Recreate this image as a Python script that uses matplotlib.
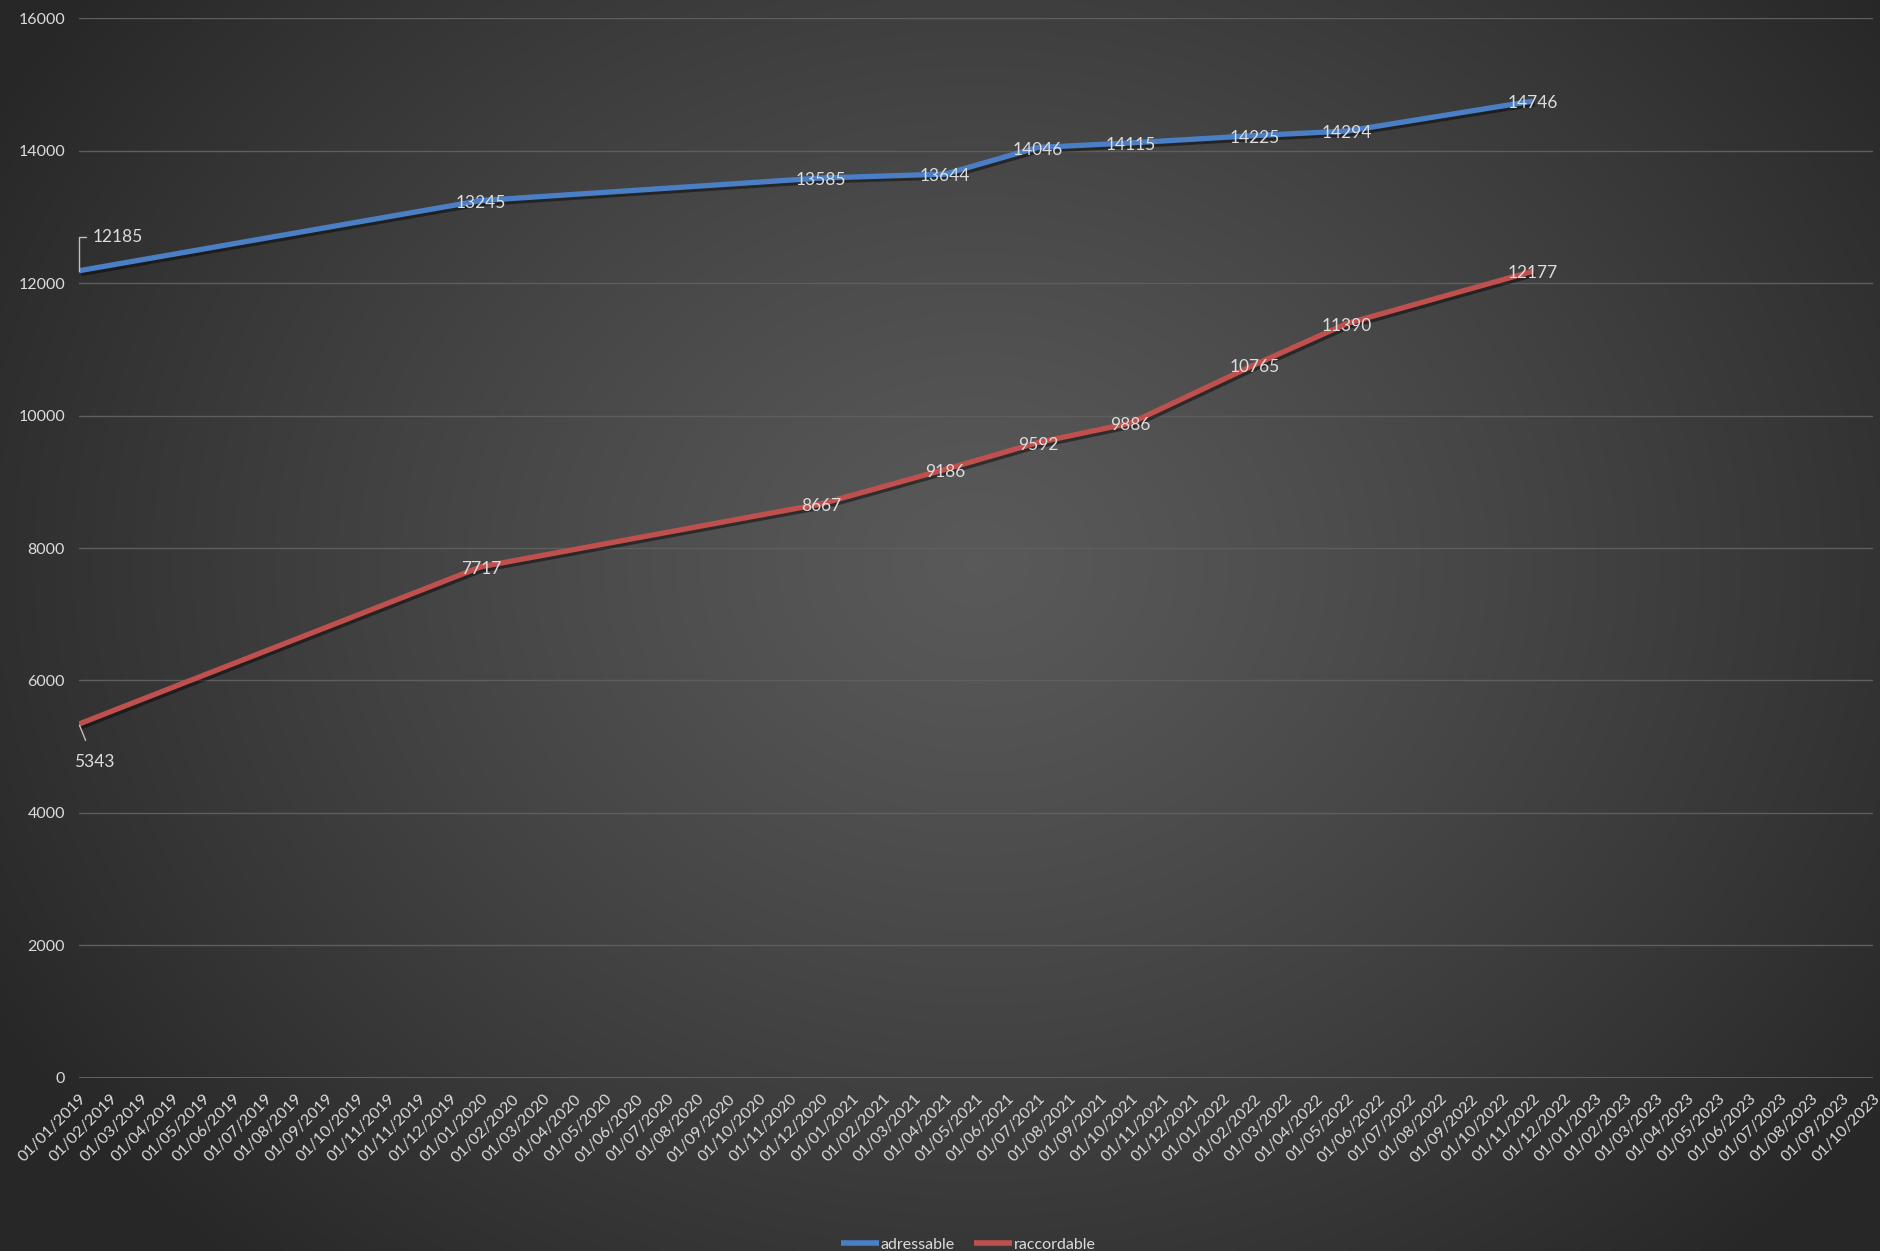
import matplotlib
matplotlib.use("Agg")
import matplotlib.pyplot as plt
import matplotlib.patheffects as pe
import numpy as np

# ---------------------------------------------------------------------------
# Data
# ---------------------------------------------------------------------------

DATES = (
    ["01/%02d/2019" % m for m in range(1, 12)] + ["01/11/2019", "01/12/2019"]
    + ["01/%02d/2020" % m for m in range(1, 13)]
    + ["01/%02d/2021" % m for m in range(1, 13)]
    + ["01/%02d/2022" % m for m in range(1, 13)]
    + ["01/%02d/2023" % m for m in range(1, 11)]
)

# readings taken on a few dates only (others are empty cells)
ADRESSABLE = {
    "01/01/2019": 12185, "01/01/2020": 13245, "01/12/2020": 13585,
    "01/04/2021": 13644, "01/07/2021": 14046, "01/10/2021": 14115,
    "01/02/2022": 14225, "01/05/2022": 14294, "01/11/2022": 14746,
}
RACCORDABLE = {
    "01/01/2019": 5343, "01/01/2020": 7717, "01/12/2020": 8667,
    "01/04/2021": 9186, "01/07/2021": 9592, "01/10/2021": 9886,
    "01/02/2022": 10765, "01/05/2022": 11390, "01/11/2022": 12177,
}

BLUE = "#4a7fc6"
RED = "#c0504d"
TXT = "#dcdcdc"

plt.rcParams["font.family"] = ["Lato", "DejaVu Sans"]

# ---------------------------------------------------------------------------
# Figure + radial background
# ---------------------------------------------------------------------------

fig = plt.figure(figsize=(18.8, 12.51), dpi=100)

bg = fig.add_axes([0, 0, 1, 1], zorder=-10)
gx, gy = np.meshgrid(np.linspace(0, 1, 400), np.linspace(0, 1, 300))
r = np.sqrt(((gx - 0.52) / 0.6) ** 2 + ((gy - 0.55) / 0.75) ** 2)
r = np.clip(r, 0, 1)
shade = 0.35 - (0.35 - 0.155) * r ** 1.2
bg.imshow(np.dstack([shade] * 3), extent=[0, 1, 0, 1], aspect="auto",
          origin="lower", interpolation="bilinear")
bg.axis("off")

ax = fig.add_axes([0.042, 0.1383, 0.9543, 0.8473])
ax.set_facecolor("none")

# positions on the category axis
idx = {d: i for i, d in enumerate(DATES)}
shadow = [pe.SimpleLineShadow(offset=(1.5, -2), shadow_color="black", alpha=0.45),
          pe.Normal()]

for series, color, name in [(ADRESSABLE, BLUE, "adressable"),
                            (RACCORDABLE, RED, "raccordable")]:
    xs = [idx[d] for d in series]
    ys = list(series.values())
    ax.plot(xs, ys, color=color, linewidth=3.8, solid_capstyle="butt",
            label=name, path_effects=shadow, zorder=3)
    for i, (x, y) in enumerate(zip(xs, ys)):
        if i == 0:
            continue
        ax.annotate(str(y), (x, y), xytext=(0, -1.5), textcoords="offset points",
                    ha="center", va="center", fontsize=12.5, color=TXT, zorder=5)

# first points have leader lines
a0 = list(ADRESSABLE.items())[0]
ax.annotate(str(a0[1]), (idx[a0[0]], a0[1]), xytext=(10, 24),
            textcoords="offset points", ha="left", va="center",
            fontsize=12.5, color=TXT,
            arrowprops=dict(arrowstyle="-", color="#bfbfbf", lw=1,
                            connectionstyle="angle,angleA=0,angleB=90,rad=0",
                            shrinkA=3, shrinkB=0))
r0 = list(RACCORDABLE.items())[0]
ax.annotate(str(r0[1]), (idx[r0[0]], r0[1]), xytext=(11, -27),
            textcoords="offset points", ha="center", va="center",
            fontsize=12.5, color=TXT,
            arrowprops=dict(arrowstyle="-", color="#bfbfbf", lw=1,
                            shrinkA=8, shrinkB=1))

# ---------------------------------------------------------------------------
# Axes styling
# ---------------------------------------------------------------------------

ax.set_xlim(0, len(DATES) - 1)
ax.set_ylim(0, 16000)
ax.set_yticks(np.arange(0, 16001, 2000))
ax.set_xticks(range(len(DATES)))
ax.set_xticklabels(DATES, rotation=45, ha="right", va="top",
                   rotation_mode="anchor", fontsize=11.5, color=TXT)
ax.tick_params(axis="y", length=0, pad=10, labelsize=11.5, labelcolor=TXT)
ax.tick_params(axis="x", length=0, pad=10)
ax.grid(axis="y", color="#5e5e5e", linewidth=1)
ax.set_axisbelow(True)
for s in ax.spines.values():
    s.set_visible(False)
ax.axhline(0, color="#6a6a6a", linewidth=1.2, zorder=1)

leg = fig.legend(loc="lower center", bbox_to_anchor=(0.515, -0.012), ncol=2,
                 frameon=False, fontsize=11.5, handlelength=2.4,
                 handletextpad=0.1, columnspacing=1.2, labelcolor=TXT)
for h in leg.get_lines():
    h.set_linewidth(4)
    h.set_path_effects([])

fig.savefig("out.png", dpi=100, facecolor="#2b2b2b")
